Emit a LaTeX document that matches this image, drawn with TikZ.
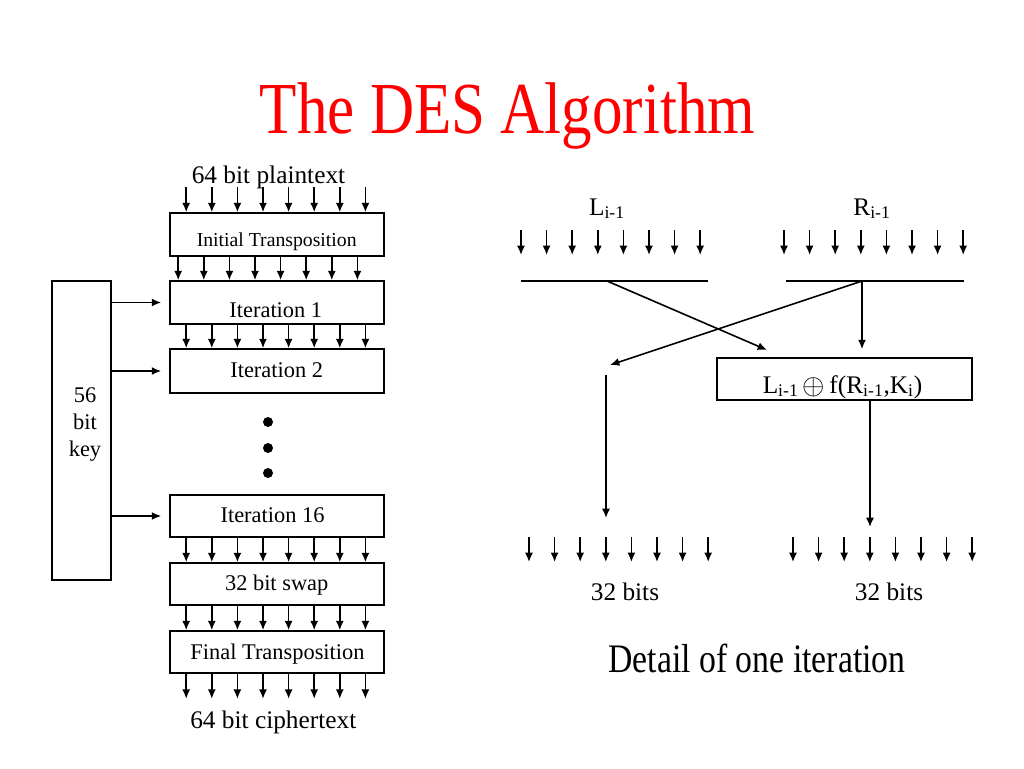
\documentclass[tikz,border=0pt]{standalone}
\usepackage{fontspec}
\usepackage{graphicx}
\setmainfont{Liberation Serif}
\usetikzlibrary{arrows.meta,calc}

\newcommand{\fsTitle}{\fontsize{45.8}{50}\selectfont}
\newcommand{\fsNote}{\fontsize{25.3}{30}\selectfont}
\newcommand{\fsBig}{\fontsize{19}{23}\selectfont}
\newcommand{\fsStage}{\fontsize{16.8}{20.3}\selectfont}
\newcommand{\fsSmall}{\fontsize{14.8}{18}\selectfont}

\tikzstyle{stage} = [draw, inner sep=0,
  minimum width=160.5pt, minimum height=32pt]
\tikzstyle{lbl} = [anchor=base, inner sep=0]

\begin{document}
\begin{tikzpicture}[x=0.75pt, y=-0.75pt, line width=1.2, >={Latex[length=7pt,width=6pt]}]
  \useasboundingbox (0,0) rectangle (1024,768);

  \node[lbl, red] (title) at (507.5,133) {\scalebox{1}[1.2]{\fsTitle The DES Algorithm}};

  % left column
  \node[stage, minimum height=32.25pt] (init) at (277,234.5) {};
  \node[stage, minimum height=32.25pt] (it1) at (277,302.5) {};
  \node[stage, minimum height=33pt] (it2) at (277,371) {};
  \node[stage, minimum height=31.5pt] (it16) at (277,516) {};
  \node[stage, minimum height=31.5pt] (swap) at (277,584) {};
  \node[stage, minimum height=31.5pt] (final) at (277,652) {};
  \node[draw, inner sep=0, minimum width=44.25pt, minimum height=224.25pt] (key) at (81.5,430.5) {};

  \node[lbl] (plain) at (268.5,183) {\fsBig 64 bit plaintext};
  \node[lbl] (tinit) at (276.7,246) {\fsSmall Initial Transposition};
  \node[lbl] (tit1) at (275.8,317) {\fsStage Iteration 1};
  \node[lbl] (tit2) at (276.7,377) {\fsStage Iteration 2};
  \node[lbl] (tit16) at (272.5,522) {\fsStage Iteration 16};
  \node[lbl] (tswap) at (276.7,590) {\fsStage 32 bit swap};
  \node[lbl] (tfinal) at (277.5,659) {\fsStage Final Transposition};
  \node[lbl] (cipher) at (273.3,728) {\fsBig 64 bit ciphertext};
  \node[lbl] (t56) at (85,402) {\fsStage 56};
  \node[lbl] (tbit) at (85,429) {\fsStage bit};
  \node[lbl] (tkey) at (85,456) {\fsStage key};

  \foreach \i in {0,...,7} {
    \draw[->] ($(init.north west)+(17+25.6*\i,-25)$) -- ($(init.north west)+(17+25.6*\i,0)$);
    \draw[->] ($(final.south west)+(17+25.6*\i,0)$) -- ($(final.south west)+(17+25.6*\i,25)$);
  }
  \foreach \a/\b/\d in {init/it1/9, it1/it2/17, it16/swap/17, swap/final/17} {
    \foreach \i in {0,...,7}
      \draw[->] ($(\a.south west)+(\d+25.6*\i,0)$) -- ($(\b.north west)+(\d+25.6*\i,0)$);
  }
  \foreach \t in {it1,it2,it16} {
    \draw[->, shorten >=6pt] (key.east |- \t.west) -- (\t.west);
  }
  \foreach \y in {422,448,473} {
    \fill (268,\y) circle[radius=5];
  }

  % detail of one iteration
  \node[lbl] (lin) at (607,215) {\fsBig L\textsubscript{i-1}};
  \node[lbl] (rin) at (872,215) {\fsBig R\textsubscript{i-1}};
  \node[draw, inner sep=0, minimum width=191.25pt, minimum height=31.5pt] (fx) at (844.5,379) {};
  \node[lbl] (tfx) at (842.5,393) {\fsBig L\textsubscript{i-1}\,\raisebox{-0.1ex}{\scalebox{1.25}{$\oplus$}}\,f(R\textsubscript{i-1},K\textsubscript{i})};

  \coordinate (Lbar) at (607,281);
  \coordinate (Rbar) at (862,281);
  \coordinate (Lcross) at (767,350);
  \coordinate (Rcross) at (610,365);
  \coordinate (Lout) at (606,375);
  \coordinate (Lbot) at (606,518);
  \coordinate (Rbot) at (870,527);

  \foreach \x in {521,784} {
    \foreach \i in {0,...,7}
      \draw[->] (\x+25.6*\i,230) -- ++(0,25);
  }
  \draw (521,281) -- (Lbar) -- (708,281);
  \draw (786,281) -- (Rbar) -- (964,281);
  \draw[->] (Lbar) -- (Lcross);
  \draw[->] (Rbar) -- (Rcross);
  \draw[->, shorten >=6pt] (Rbar) -- (Rbar |- fx.north);
  \draw[->] (Lout) -- (Lbot);
  \draw[->] (fx.south -| Rbot) -- (Rbot);
  \foreach \x in {529,793} {
    \foreach \i in {0,...,7}
      \draw[->] (\x+25.6*\i,537) -- ++(0,25);
  }

  \node[lbl] (lbits) at (625,600) {\fsBig 32 bits};
  \node[lbl] (rbits) at (889,600) {\fsBig 32 bits};
  \node[lbl] (note) at (757,672) {\scalebox{1}[1.2]{\fsNote Detail of one iteration}};
\end{tikzpicture}
\end{document}
